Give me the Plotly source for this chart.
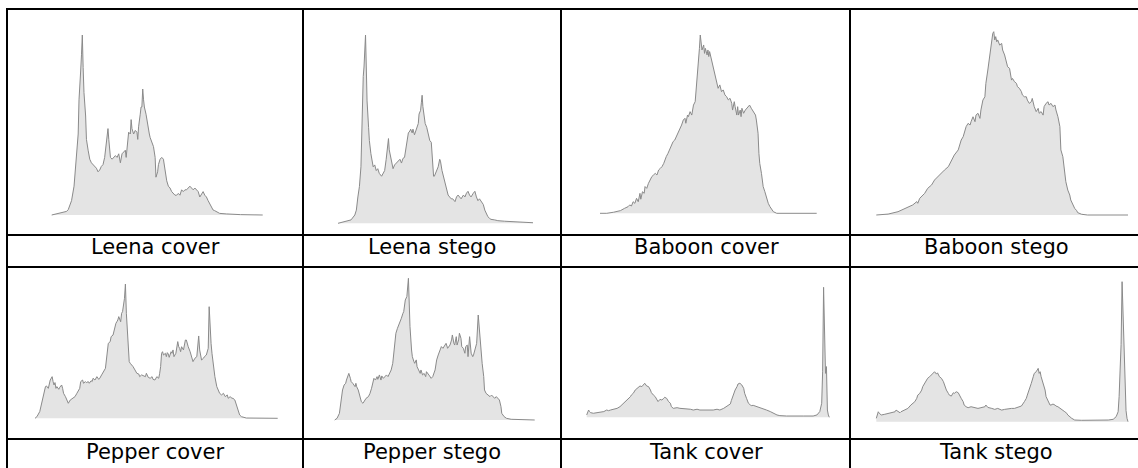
import plotly.graph_objects as go

# ---------------- data (grey level vs. relative pixel count, % of panel max) -------------
labels = ["Leena cover", "Leena stego", "Baboon cover", "Baboon stego",
          "Pepper cover", "Pepper stego", "Tank cover", "Tank stego"]

leena_cover_level = [0,8,18,20,24,27,30,32,33,34,35,36,37,38,39,41,42,44,46,48,50,52,54,56,58,60,62,64,66,68,
    69,71,73,75,77,79,81,83,85,87,89,90,91,92,93,95,96,97,99,101,103,104,105,107,108,109,110,111,112,114,
    115,116,118,119,121,123,125,126,128,129,131,133,135,137,139,141,143,145,147,149,151,153,155,157,159,161,
    163,165,167,169,171,173,175,177,179,181,183,185,187,189,191,193,195,197,199,201,203,211,228,255]
leena_cover_count = [0,1,2,3,8,16,31,45,64,77,80,89,100,82,68,55,42,36,31,29,28,27,26,24,25,27,28,32,42,48,
    42,32,31,32,33,32,34,29,34,35,36,32,38,45,46,45,53,48,45,47,46,42,49,56,60,60,70,64,60,56,
    53,49,45,43,41,38,32,21,24,28,31,32,31,25,19,16,15,13,12,11,11,12,11,14,13,14,
    14,15,16,15,14,15,14,13,10,12,13,11,10,8,6.5,4.6,2.8,2.4,1.9,1.3,0.9,0.6,0.2,0]

leena_stego_level = [0,7,13,17,22,24,26,28,30,31,32,33,34,35,36,37,38,40,41,43,44,46,48,50,52,54,57,59,61,63,
    65,66,67,69,71,72,74,76,79,81,83,85,87,89,92,94,95,97,98,100,102,105,106,108,109,110,111,112,114,116,
    118,120,122,123,125,126,129,131,133,134,136,138,140,142,144,146,148,150,153,155,157,159,161,164,166,168,
    170,172,174,177,179,181,183,185,187,190,192,194,196,198,200,205,209,218,231,255]
leena_stego_count = [0,0.9,1.4,1.8,4.4,7,14,19.5,30,48,65,78,83,92,100,83,65,51,44,37,34,30,31,28,29,26.5,25,27,28,34,
    41,45,39,35,32,29,31,32,33,34,32,34.5,35,41,48,49,50,48,50,47,49,53,58,60,64,68,62,59,53,51,
    48,44,43,37,25,25,28,30,34,33,28,25,21,18,15,14,13,13,11.5,14,15,14,13,15,14,16,
    17,15,14,16,17,14,12,13,11.5,10,7,5,3.5,2.7,2.1,1.8,1.4,1.1,0.7,0.3]

baboon_cover_level = [0,8,16,24,29,33,35,37,39,41,43,45,47,48,50,52,53,55,57,59,61,63,65,67,69,71,73,75,77,78,
    80,82,84,86,88,90,92,94,96,98,100,101,103,104,106,108,110,112,113,114,115,116,117,118,119,120,122,123,124,126,
    127,128,129,131,133,135,137,139,141,143,145,147,149,151,153,155,156,158,159,161,162,163,165,166,167,169,171,173,175,176,
    178,181,183,184,186,187,188,190,191,192,194,196,198,200,202,204,208,255]
baboon_cover_count = [0,0,0.6,1.5,2.8,3.7,4.7,4.1,6.5,5.6,8.4,6.5,11.2,7.9,12.1,11.2,15,14,16.8,18.7,20.6,21.5,22.4,21.5,24.3,25.2,26.2,28,30.8,31.8,
    33.6,35.5,37.4,40.2,41.1,43,45.8,47.7,49.5,52.3,53.3,50.5,55.1,54.2,57,55.1,60.7,62.6,68.2,72,81.3,86.9,92.5,100,95.3,91.6,94.4,89.7,92.5,88.8,
    91.6,87.9,90.7,86.9,82.2,79.4,74.8,70.1,72,68.2,69.2,66.4,65.4,63.6,64.5,61.7,57.9,62.6,59.8,55.1,59.8,55.1,57.9,54.2,58.9,56.1,57.9,58.9,59.8,60.7,
    58.9,56.1,55.1,52.3,44.9,33.6,28,22.4,18.7,15,12.1,8.4,5.6,3.7,2.2,0.9,0,0]

baboon_stego_level = [0,12,22,29,34,37,41,42,44,46,49,52,56,59,62,66,69,73,76,79,83,84,86,88,89,91,93,95,96,98,
    100,101,103,105,106,108,110,111,113,115,117,118,119,120,121,122,123,125,127,128,130,132,133,135,137,138,140,142,143,145,
    147,148,150,152,153,155,157,158,160,162,164,165,167,169,170,172,174,175,177,179,181,182,184,186,187,189,191,192,194,196,
    197,199,201,203,204,208,214,255]
baboon_stego_count = [0,0.5,1.8,3.6,4.5,5.5,7.3,6.4,9.1,10,11.8,14.5,16.4,19.1,20.9,22.7,24.5,26.4,30,32.7,35.5,37.3,40.9,42.7,44.5,48.2,50,49.1,50.9,53.6,
    50.9,54.5,55.5,52.7,57.3,62.7,64.5,71.8,79.1,87.3,95.5,99.1,100,95.5,97.3,94.5,95.5,92.7,93.6,90,87.3,83.6,80.9,80,73.6,74.5,72.7,71.8,70,69.1,
    67.3,65.5,64.5,64.5,62.7,60.9,61.8,63.6,59.1,56.4,58.2,55.5,56.4,54.5,59.1,60.9,61.8,60,60.9,59.1,60,57.3,53.6,48.2,35.5,31.8,22.7,18.2,13.6,10.9,
    8.2,5.5,3.6,2.4,1.3,0.4,0,0]

pepper_cover_level = [0,2,5,7,9,11,12,14,16,18,19,20,21,22,23,25,26,28,29,30,32,34,35,37,39,40,42,44,46,47,48,50,51,53,54,56,57,59,60,61,
    63,65,67,68,70,72,74,75,76,77,79,80,82,83,85,86,87,88,90,91,92,94,95,96,97,98,99,100,102,103,105,107,109,110,112,114,116,117,119,121,
    123,124,126,128,130,131,132,133,134,135,137,138,139,140,141,143,144,145,146,148,149,150,151,152,153,154,156,158,159,160,161,163,165,166,167,168,170,171,172,173,
    174,175,177,178,180,182,183,184,185,186,187,189,191,193,194,196,198,200,202,203,205,207,208,210,212,214,215,217,219,222,255]
pepper_cover_count = [0,1.2,5,11.2,18.6,23.6,24.1,22.3,28.5,31,27.3,24.8,26.6,22.3,23.6,21.6,23.1,24.8,22.3,18.6,16.1,13.2,11.2,13.6,14.9,14.9,16.1,18.6,21.1,22.3,27.3,28.5,26.1,27.3,26.6,27.3,26.1,28,27.3,29.8,
    28.5,31,29,29.8,32.3,34.7,37.2,43.4,50.9,55.8,57.1,60.8,62,65.8,70.7,71.9,73.2,75.7,71.9,78.2,79.4,89.3,100,78.2,65.8,48.4,42.2,41,39.7,38.5,36,33.5,33,31,32.3,31.5,31,33.5,30.5,29.8,
    31,29,28.5,31,29.8,33.5,38.5,48.4,49.6,47.1,48.4,45.9,48.9,47.9,45.4,49.6,48.4,50.9,45.9,48.4,53.3,57.1,53.3,52.1,49.6,53.3,50.9,58.3,58.3,54.6,53.3,49.6,44.7,42.2,43.4,44.7,45.9,54.6,61.3,50.9,
    44.7,43.4,44.7,45.9,47.1,52.1,83.1,65.5,55.6,48.1,40.9,31,23.6,19.9,18.6,17.4,18.6,16.1,17.4,14.9,16.1,14.9,14.9,13.6,8.7,5,2.5,1.2,0.7,0.2,0]

pepper_stego_level = [0,3,6,8,10,12,14,15,17,18,20,21,23,26,27,28,30,32,34,36,38,40,43,45,47,49,50,52,54,55,57,59,60,62,64,66,68,70,72,74,
    75,77,78,80,82,83,85,87,88,90,92,94,95,96,98,99,101,102,104,105,107,109,110,112,114,116,117,119,121,123,125,128,130,132,134,136,138,140,142,144,
    147,149,150,152,153,155,156,158,159,161,162,164,166,167,169,170,172,174,176,177,179,181,183,184,186,188,190,191,193,196,198,200,202,204,206,208,210,212,213,216,
    219,225,255]
pepper_stego_count = [0,1.2,4.7,11.8,21.2,24.7,25.9,28.2,30.6,32.9,29.4,27.1,25.9,23.5,25.9,23.5,21.2,16.5,12.9,11.8,14.1,15.3,16.5,18.8,22.4,27.1,29.4,28.2,30.6,28.7,31.8,28.2,31.1,29.4,30.6,31.8,30.6,32.9,35.3,40,
    44.7,56.5,61.2,64.7,67.1,68.2,71.8,75.3,76.5,84.7,87.1,100,80,65.9,49.4,44.7,41.2,40,42.4,37.6,35.3,32.9,35.3,31.8,32.9,30.6,34.1,32.9,31.1,29.4,30.6,35.3,42.4,45.9,49.4,51.8,50.6,52.9,54.1,50.6,
    52.9,56.5,60,54.1,52.9,58.8,52.9,56.5,61.2,57.6,51.8,50.6,47.1,51.8,52.9,44.7,58.8,47.1,44.7,45.9,49.4,54.1,74.1,65.9,51.8,40,30.6,21.2,18.8,17.6,16.5,17.6,16.5,15.3,16.5,15.3,14.1,9.4,4.7,2.4,
    1.2,0.5,0]

tank_cover_level = [0,2,3,4,7,11,14,18,21,23,25,28,32,35,39,42,46,47,49,51,53,54,56,58,60,61,63,65,67,68,70,72,74,75,77,79,81,82,84,86,
    88,89,91,95,98,102,105,109,112,116,119,123,126,130,133,137,140,144,147,151,152,154,156,158,159,161,163,165,166,168,170,172,173,175,179,182,186,189,193,196,
    200,203,210,228,238,242,243,245,247,248,249,250,251,252,253,254,255]
tank_cover_count = [1.8,5.6,4.4,3.6,3.1,3.6,4.1,4.4,5.6,5.1,5.6,6.2,6.9,8.2,10.8,13.3,15.9,17.2,18.5,21,22.3,23.1,24.1,23.6,24.9,26.2,24.1,23.6,21,19,17.2,15.9,13.3,12.1,13.8,13.3,14.6,15.4,14.6,12.1,
    10.8,8.2,6.9,7.4,6.9,6.7,6.9,6.2,5.6,6.2,5.6,5.6,5.1,5.6,5.6,6.2,5.6,6.9,8.2,10.3,12.8,17.2,21,23.6,25.6,26.2,24.9,22.3,18.5,14.6,10.8,9.5,9,9.2,8.2,7.7,6.9,5.6,4.4,3.1,
    1.8,1.3,1,1,1,1.8,2.6,4.4,10.8,35,100,66.7,33.8,39,5.6,1.8,0]

tank_stego_level = [0,2,3,5,8,12,15,19,20,22,24,25,27,29,32,35,39,41,42,44,46,47,49,51,52,54,56,57,59,61,62,64,66,68,69,71,73,74,76,78,
    79,81,83,84,86,88,89,91,93,96,100,103,106,110,111,113,117,120,123,127,130,133,137,140,144,147,150,152,153,155,157,159,160,162,164,165,166,167,169,171,
    172,174,176,177,179,181,182,184,186,188,189,191,193,194,198,201,208,214,225,235,240,241,243,245,246,247,248,249,250,251,252,253,254,255]
tank_stego_count = [2.4,7.1,6,4.8,5.2,6,6.4,7.1,8.3,7.1,6.4,7.1,7.9,8.3,9.5,11.9,14.3,16.7,19,20.2,22.6,25,27.4,29.3,31,32.1,33.3,34.5,35.7,34,34.9,32.1,31,28.6,26.2,22.6,20.2,19,18.3,20.7,
    20.2,21.4,20.7,19,16.7,14.3,11.9,10.7,10,10.7,10.2,9.5,10,10.7,11.9,10.2,9.5,8.8,9.5,8.3,8.8,9.3,9.5,9.5,10.7,11.2,14.3,16.7,19,22.6,27.4,32.1,34.5,35.7,38.1,34.5,35.7,32.1,27.4,22.6,
    17.9,14.3,11.9,11.9,12.6,11.9,11.2,10.7,9.5,8.8,7.9,7.1,6,4.8,2.4,1.2,1,1,1.2,1.2,1.7,2.4,3.6,7.1,17.9,36.9,55,100,72,48,29,8,2.4,0]

levels = [leena_cover_level, leena_stego_level, baboon_cover_level, baboon_stego_level,
          pepper_cover_level, pepper_stego_level, tank_cover_level, tank_stego_level]
counts = [leena_cover_count, leena_stego_count, baboon_cover_count, baboon_stego_count,
          pepper_cover_count, pepper_stego_count, tank_cover_count, tank_stego_count]
for lv, ct, name in zip(levels, counts, labels):
    assert len(lv) == len(ct), (name, len(lv), len(ct))

# ---------------- layout geometry (pixels) ----------------
W, H = 1138, 468
col_edges = [7, 303, 561, 850, 1150]
row_img = [(9, 235), (267, 439)]
label_cx = [155, 432, 706, 996]
label_cy = [247, 451.5]
# histogram frame in each cell: (x start, x end, baseline y, peak y)
hist_px = [(51.7, 262.7, 215, 35), (338, 533, 223.3, 35), (600, 816.7, 213.3, 35), (876.3, 1128, 215, 31.7),
           (35, 277.7, 418.3, 284), (334.7, 534.7, 420, 278.3), (586.7, 829.3, 417.3, 287.3), (876.3, 1128, 421.7, 281.7)]

fig = go.Figure()
for i in range(8):
    r, c = divmod(i, 4)
    cx0, cx1 = col_edges[c] + 2, min(col_edges[c + 1] - 2, W)
    cy0, cy1 = row_img[r][0] + 2, row_img[r][1] - 2
    hs, he, base, top = hist_px[i]
    sx = (he - hs) / 255.0
    xr = [0 - (hs - cx0) / sx, 255 + (cx1 - he) / sx]
    sy = (base - top) / 100.0
    yr = [-(cy1 - base) / sy, 100 + (top - cy0) / sy]
    sfx = "" if i == 0 else str(i + 1)
    fig.add_trace(go.Scatter(x=levels[i], y=counts[i], mode="lines",
                             line=dict(color="#8a8a8a", width=1),
                             fill="tozeroy", fillcolor="#e4e4e4",
                             xaxis="x" + sfx, yaxis="y" + sfx,
                             showlegend=False, hoverinfo="skip"))
    fig.layout["xaxis" + sfx] = dict(domain=[cx0 / W, cx1 / W], range=xr, visible=False,
                                     anchor="y" + sfx, fixedrange=True)
    fig.layout["yaxis" + sfx] = dict(domain=[1 - cy1 / H, 1 - cy0 / H], range=yr, visible=False,
                                     anchor="x" + sfx, fixedrange=True)
    fig.add_annotation(text=labels[i], xref="paper", yref="paper",
                       x=label_cx[c] / W, y=1 - label_cy[r] / H,
                       xanchor="center", yanchor="middle", showarrow=False,
                       font=dict(family="DejaVu Sans", size=21, color="black"))

# table rules
line = dict(color="black", width=2)
for yv in [9, 235, 267, 439, 471]:
    fig.add_shape(type="line", xref="paper", yref="paper",
                  x0=(col_edges[0] - 1) / W, x1=(col_edges[-1]) / W,
                  y0=1 - yv / H, y1=1 - yv / H, line=line)
for xv in col_edges:
    fig.add_shape(type="line", xref="paper", yref="paper",
                  x0=xv / W, x1=xv / W, y0=1 - 8 / H, y1=1 - 472 / H, line=line)

fig.update_layout(width=W, height=H, margin=dict(l=0, r=0, t=0, b=0),
                  paper_bgcolor="white", plot_bgcolor="white")

fig.write_html("out.html", config={"displayModeBar": False},
               post_script="document.body.style.margin='0';document.body.style.overflow='hidden';")
